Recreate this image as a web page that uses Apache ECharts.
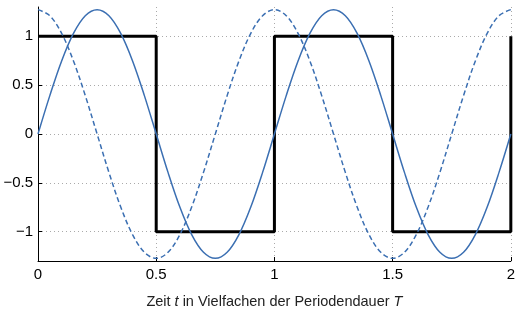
<!DOCTYPE html>
<html><head><meta charset="utf-8">
<script src="https://cdn.jsdelivr.net/npm/echarts@6/dist/echarts.min.js"></script>
<style>html,body{margin:0;padding:0;background:#fff}#c{width:518px;height:314px}</style>
</head><body><div id="c"></div>
<script>
// time values (multiples of the period T)
const tValues = [0,0.05,0.1,0.15,0.2,0.25,0.3,0.35,0.4,0.45,0.5,0.55,0.6,0.65,0.7,0.75,0.8,0.85,0.9,0.95,
  1,1.05,1.1,1.15,1.2,1.25,1.3,1.35,1.4,1.45,1.5,1.55,1.6,1.65,1.7,1.75,1.8,1.85,1.9,1.95,2];
// fundamental (solid)
const sineValues = [0,0.393,0.748,1.030,1.211,1.273,1.211,1.030,0.748,0.393,0,-0.393,-0.748,-1.030,-1.211,-1.273,-1.211,-1.030,-0.748,-0.393,
  0,0.393,0.748,1.030,1.211,1.273,1.211,1.030,0.748,0.393,0,-0.393,-0.748,-1.030,-1.211,-1.273,-1.211,-1.030,-0.748,-0.393,0];
// shifted (dashed)
const cosValues = [1.273,1.211,1.030,0.748,0.393,0,-0.393,-0.748,-1.030,-1.211,-1.273,-1.211,-1.030,-0.748,-0.393,0,0.393,0.748,1.030,1.211,
  1.273,1.211,1.030,0.748,0.393,0,-0.393,-0.748,-1.030,-1.211,-1.273,-1.211,-1.030,-0.748,-0.393,0,0.393,0.748,1.030,1.211,1.273];
// square wave corners
const squareT = [0,0.5,0.5,1,1,1.5,1.5,2,2];
const squareValues = [1,1,-1,-1,1,1,-1,-1,1];
const yTicks = [-1,-0.5,0,0.5,1];
const yTickLabels = ['\u22121','\u22120.5','0','0.5','1'];
const xTitle = 'Zeit {i|t} in Vielfachen der Periodendauer {i|T}';

const zip = (a,b)=>a.map((v,i)=>[v,b[i]]);
const blue = '#3b6fb2';
const chart = echarts.init(document.getElementById('c'));
const font = 'Liberation Sans, Arial, Helvetica, sans-serif';
chart.setOption({
  animation:false,
  grid:{left:38,right:4,top:7,bottom:41,containLabel:false},
  xAxis:{type:'value',min:0,max:2,interval:0.5,
    name:xTitle,nameLocation:'middle',nameGap:33,
    nameTextStyle:{fontSize:14.5,color:'#222',fontFamily:font,rich:{i:{fontStyle:'italic',fontSize:14.5,color:'#222',fontFamily:font}}},
    axisLine:{show:true,onZero:false,lineStyle:{color:'#000',width:1}},
    axisTick:{show:true,inside:true,length:4,lineStyle:{color:'#000'}},
    axisLabel:{fontSize:15,color:'#000',fontFamily:font,margin:6,formatter:v=>String(v)},
    splitLine:{show:true,lineStyle:{color:'#aaa',type:[1,3],width:1}}
  },
  yAxis:{type:'value',min:-1.3,max:1.3,
    axisLine:{show:true,onZero:false,lineStyle:{color:'#000',width:1}},
    axisTick:{show:true,inside:true,length:4,customValues:yTicks,lineStyle:{color:'#000'}},
    axisLabel:{fontSize:15,color:'#000',fontFamily:font,margin:5,customValues:yTicks,
      formatter:v=>yTickLabels[yTicks.indexOf(Math.round(v*10)/10)] ?? ''},
    splitLine:{show:true,customValues:yTicks,lineStyle:{color:'#aaa',type:[1,3],width:1}}
  },
  series:[
    {type:'line',data:zip(squareT,squareValues),symbol:'none',lineStyle:{color:'#000',width:3},z:3},
    {type:'line',data:zip(tValues,sineValues),symbol:'none',smooth:0.35,lineStyle:{color:blue,width:1.5},z:4},
    {type:'line',data:zip(tValues,cosValues),symbol:'none',smooth:0.35,lineStyle:{color:blue,width:1.5,type:[5,3]},z:4}
  ]
});
</script></body></html>
